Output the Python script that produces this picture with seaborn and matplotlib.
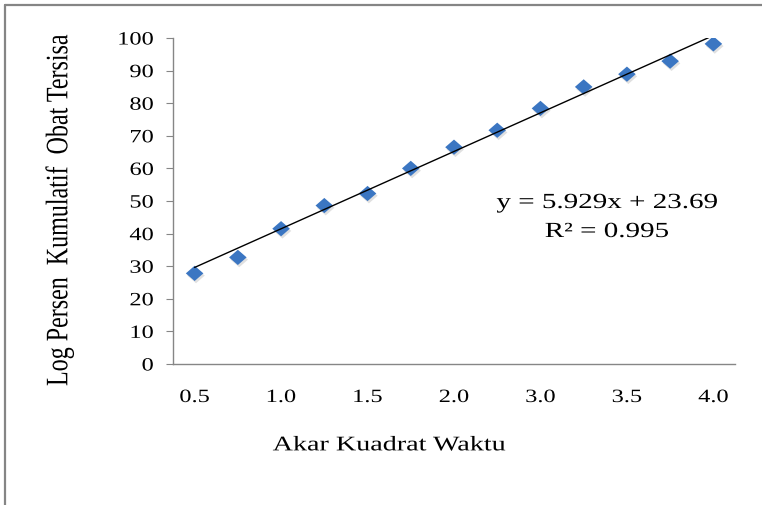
import numpy as np
import pandas as pd
import matplotlib
matplotlib.use("Agg")
import matplotlib.pyplot as plt
import matplotlib.patheffects as pe
from matplotlib.transforms import Affine2D
from matplotlib.lines import Line2D
import seaborn as sns

# ---------------- data ----------------
x_tick_labels = ["0.5", "1.0", "1.5", "2.0", "3.0", "3.5", "4.0"]   # every second category carries a label
y_values = [27.8, 32.7, 41.5, 48.6, 52.3, 60.0, 66.5, 71.7, 78.4, 85.0, 88.9, 92.9, 98.2]
y_ticks = [0, 10, 20, 30, 40, 50, 60, 70, 80, 90, 100]
trend_slope = 5.929
trend_intercept = 23.69
r_squared = 0.995
x_label = "Akar Kuadrat Waktu"
y_label = "Log Persen  Kumulatif  Obat Tersisa"


class Stretch(pe.AbstractPathEffect):
    """Draw text glyphs stretched (the reference image is horizontally stretched)."""

    def __init__(self, sx=1.0, sy=1.0, anchor="center"):
        super().__init__()
        self.sx, self.sy, self.anchor = sx, sy, anchor

    def draw_path(self, renderer, gc, tpath, affine, rgbFace=None):
        ext = tpath.get_extents()
        if self.anchor == "right":
            x0 = ext.x1
        elif self.anchor == "left":
            x0 = ext.x0
        else:
            x0 = 0.5 * (ext.x0 + ext.x1)
        y0 = 0.5 * (ext.y0 + ext.y1)
        local = Affine2D().translate(-x0, -y0).scale(self.sx, self.sy).translate(x0, y0)
        renderer.draw_path(gc, tpath, (local + affine).frozen(), rgbFace)


sns.set_theme(style="white")
plt.rcParams["font.family"] = ["Liberation Serif", "DejaVu Serif"]

W, H = 762, 505
fig = plt.figure(figsize=(W / 100, H / 100), dpi=100)
fig.patch.set_facecolor("white")
ax = fig.add_axes([173 / W, 1 - 364 / H, (735 - 173) / W, (364 - 38) / H])
ax.set_facecolor("white")

positions = np.arange(len(y_values))
df = pd.DataFrame({"pos": positions, "value": y_values})

diamond = np.array([(-1.15, 0.0), (0.0, 1.0), (1.15, 0.0), (0.0, -1.0)])
sns.scatterplot(data=df, x="pos", y="value", marker=diamond, s=160,
                color="#3B76C2", edgecolor="none", linewidth=0,
                ax=ax, zorder=3, legend=False)
ax.collections[-1].set_path_effects([
    pe.SimplePatchShadow(offset=(1.0, -1.6), shadow_rgbFace="#555555", alpha=0.18),
    pe.Normal(),
])

trend_y = trend_intercept + trend_slope * (positions + 1)
sns.lineplot(x=positions, y=trend_y, color="black", linewidth=1.0, ax=ax, zorder=4)

ax.set_xlim(-0.5, len(y_values) - 0.5)
ax.set_ylim(0, 100)
ax.set_xticks(positions[::2], x_tick_labels)
ax.set_yticks(y_ticks)

for s in ["top", "right"]:
    ax.spines[s].set_visible(False)
for s in ["left", "bottom"]:
    ax.spines[s].set_color("#868686")
    ax.spines[s].set_linewidth(1.0)

ax.tick_params(axis="y", left=True, direction="out", length=5, width=0.8,
               color="#868686", pad=9, labelsize=13.5, labelcolor="black")
ax.tick_params(axis="x", bottom=False, length=0, pad=18, labelsize=13.5,
               labelcolor="black")

ax.set_xlabel(x_label, fontsize=15, color="black")
ax.xaxis.set_label_coords(0.386, -0.222)
ax.set_ylabel(y_label, fontsize=17.3, color="black")
ax.yaxis.label.set_va("center")
ax.yaxis.set_label_coords(-0.201, 0.472)

eq1 = ax.text(0.772, (364 - 208) / 326, f"y = {trend_slope}x + {trend_intercept}",
              ha="center", va="baseline", transform=ax.transAxes, fontsize=15.5,
              color="black")
eq2 = ax.text(0.772, (364 - 237) / 326, f"R\u00b2 = {r_squared}",
              ha="center", va="baseline", transform=ax.transAxes, fontsize=15.5,
              color="black")

for t in ax.get_xticklabels():
    t.set_path_effects([Stretch(sx=1.3)])
for t in ax.get_yticklabels():
    t.set_path_effects([Stretch(sx=1.3, anchor="right")])
ax.xaxis.label.set_path_effects([Stretch(sx=1.35)])
ax.yaxis.label.set_path_effects([Stretch(sy=1.3)])
eq1.set_path_effects([Stretch(sx=1.35)])
eq2.set_path_effects([Stretch(sx=1.35)])

# outer chart frame (left and top edges visible in the reference)
bx, by = 4.5 / W, 1 - 4.5 / H
fig.add_artist(Line2D([bx, bx], [0, by], transform=fig.transFigure,
                      color="#858585", linewidth=1.6))
fig.add_artist(Line2D([bx, 1], [by, by], transform=fig.transFigure,
                      color="#858585", linewidth=1.6))

fig.savefig("out.png", dpi=100)
